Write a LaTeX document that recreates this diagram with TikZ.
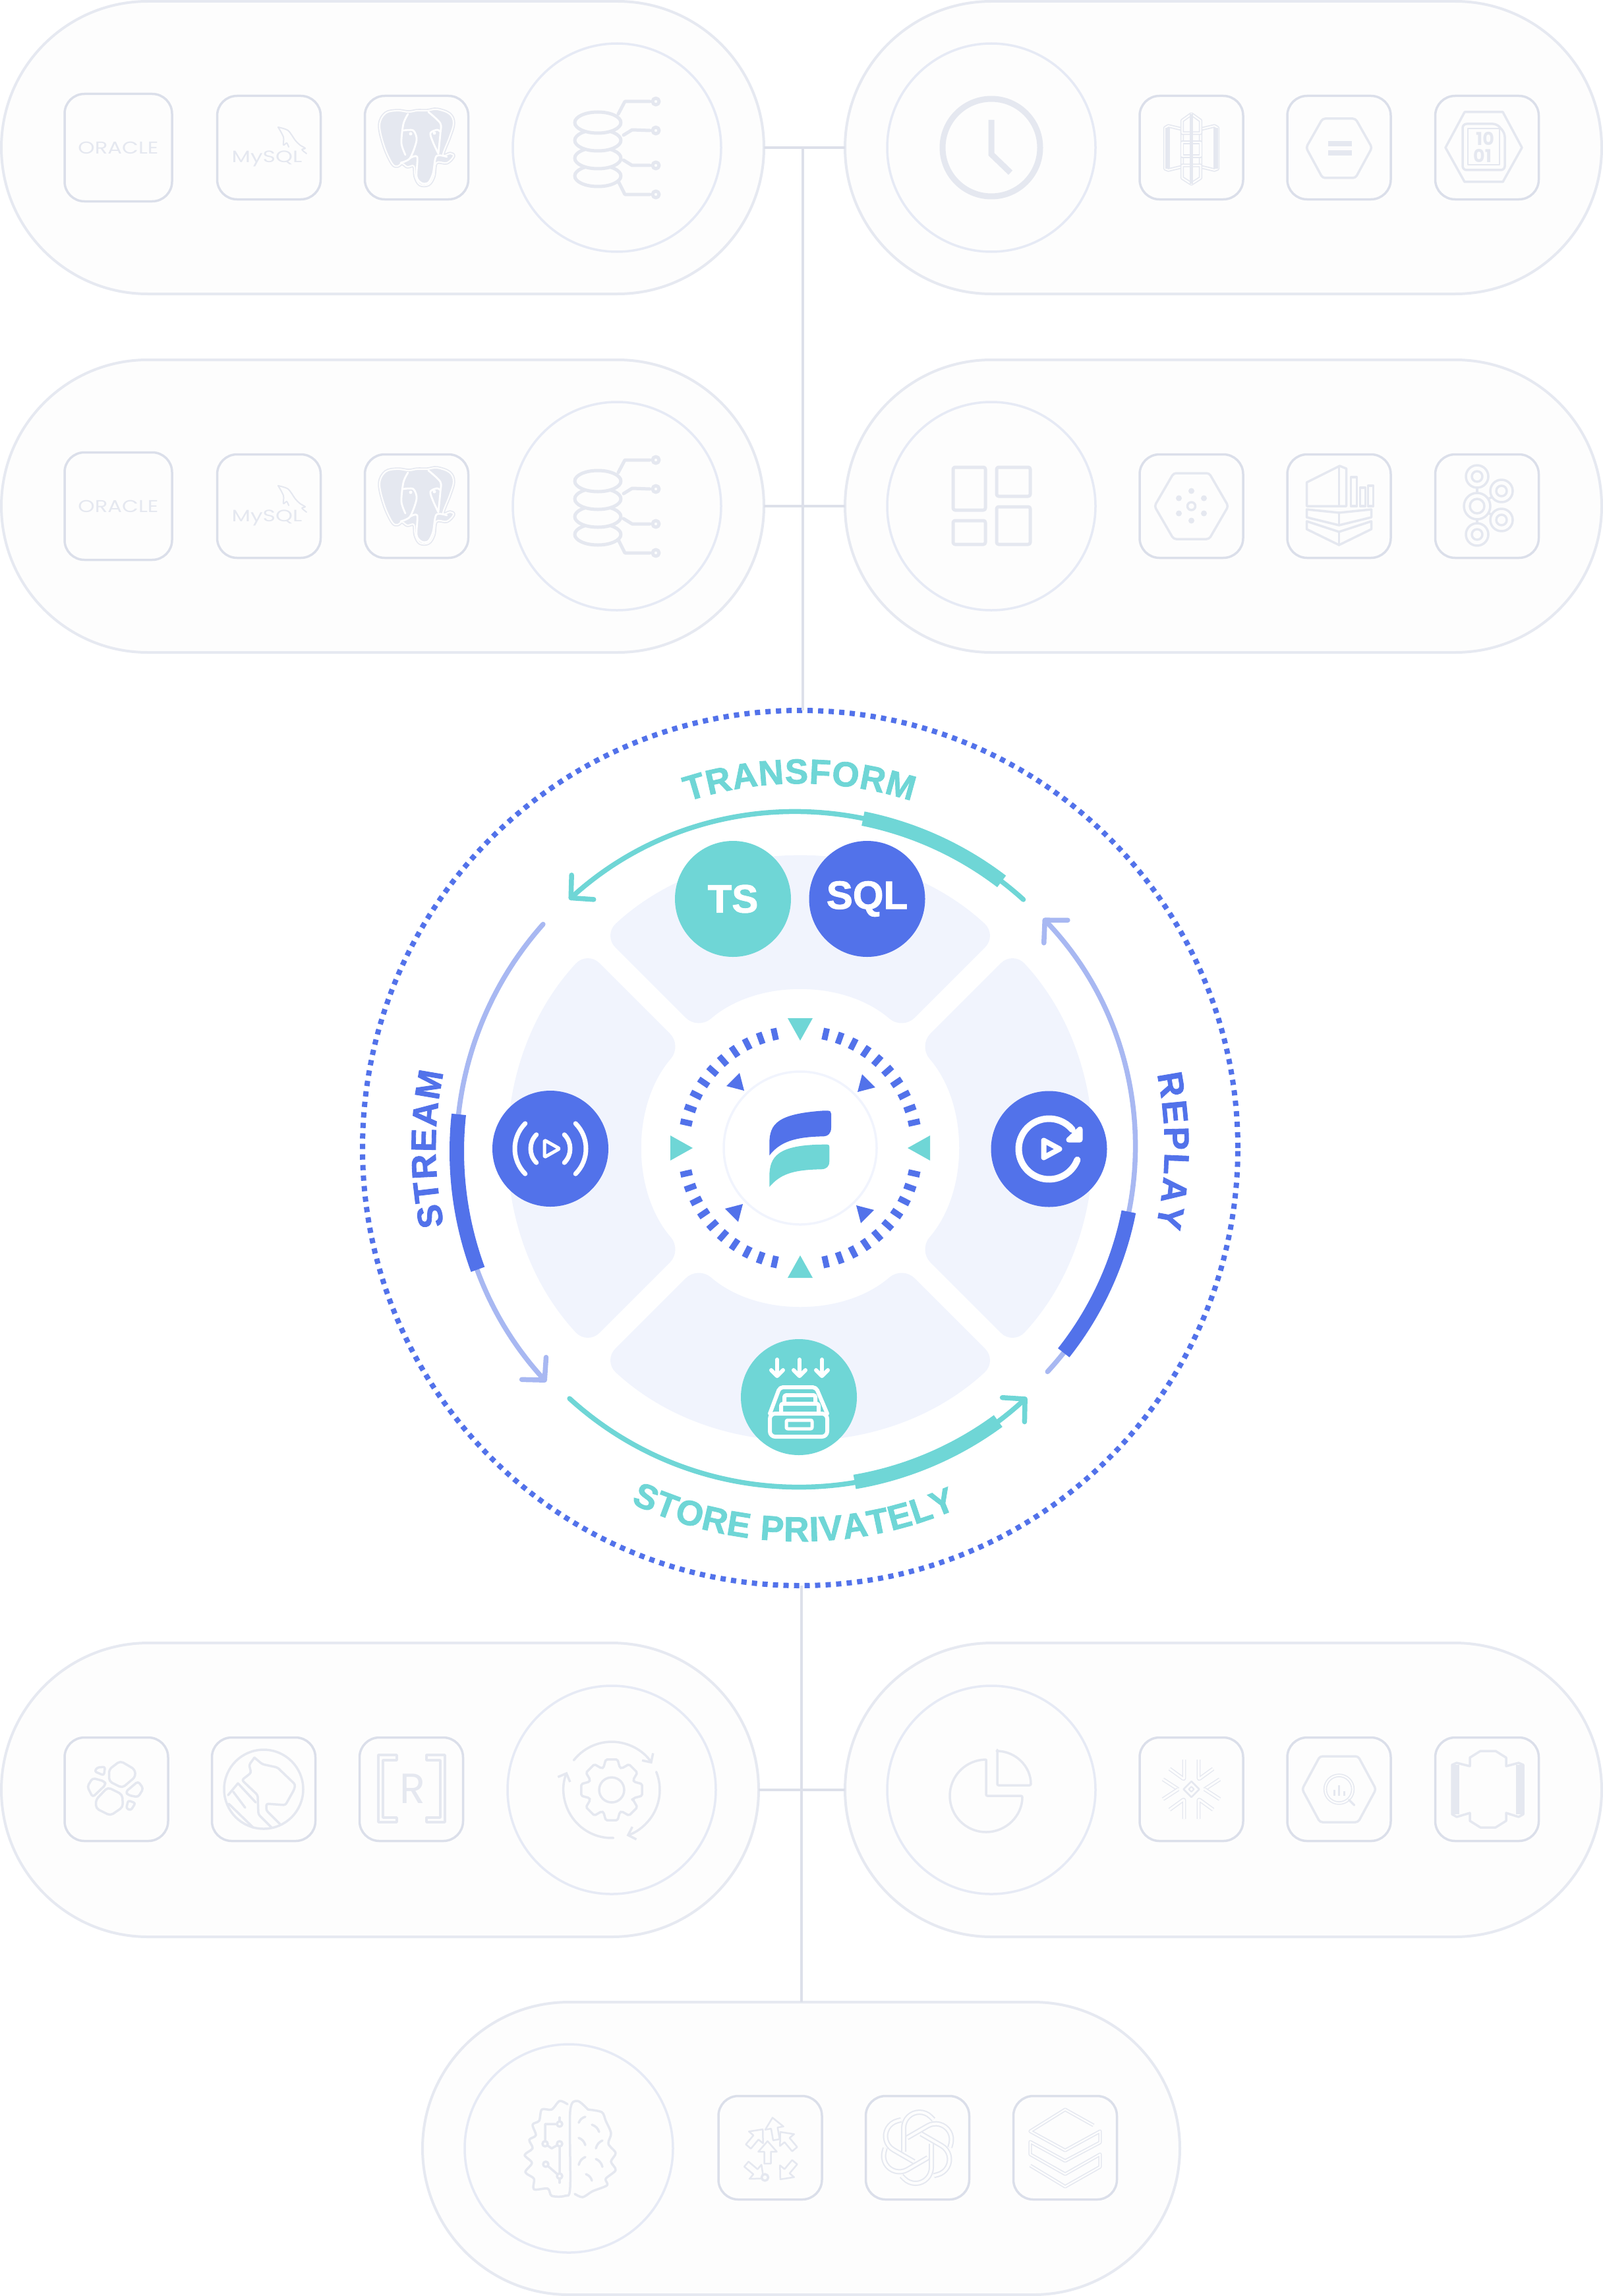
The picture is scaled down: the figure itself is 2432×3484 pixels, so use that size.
\documentclass[tikz,border=0pt]{standalone}
\usepackage{fontspec}
\setmainfont{Poppins}
\newfontfamily\heavyfont{Liberation Sans Bold}[FakeBold=1.6]
\usetikzlibrary{arrows.meta, calc, decorations.text, positioning, shapes.misc}

\definecolor{BlueMain}{HTML}{5272EA}
\definecolor{BlueSoft}{HTML}{A8B8F2}
\definecolor{BluePale}{HTML}{F1F4FD}
\definecolor{TealMain}{HTML}{6FD6D6}
\definecolor{PillEdge}{HTML}{E6E9F1}
\definecolor{TileEdge}{HTML}{DBDFEA}
\definecolor{RingEdge}{HTML}{E6EAF5}
\definecolor{IconLine}{HTML}{E5E8F0}
\definecolor{TrunkLine}{HTML}{DDE0EA}
\definecolor{PillFill}{HTML}{FDFDFD}

\tikzset{
	cl_pill/.style={rounded rectangle, draw=PillEdge, fill=PillFill, line width=4pt, minimum height=444pt, inner sep=0pt, outer sep=0pt},
	cl_ring/.style={circle, draw=RingEdge, line width=3.5pt, minimum size=316pt, inner sep=0pt, outer sep=0pt},
	cl_tile/.style={rectangle, rounded corners=30pt, draw=TileEdge, line width=3.5pt, minimum size=157pt, inner sep=0pt, outer sep=0pt},
	cl_disc/.style={circle, minimum size=176pt, inner sep=0pt, outer sep=0pt, text=white, font=\fontsize{60}{60}\selectfont\heavyfont},
	cl_link/.style={draw=TrunkLine, line width=4pt},
	cl_icon/.style={draw=IconLine, line width=5pt, line join=round, line cap=round},
	cl_thin/.style={draw=IconLine, line width=3.5pt, line join=round, line cap=round},
	cl_dbl/.style={draw=IconLine, line width=1.6pt, double=PillFill, double distance=2.2pt, line join=round},
	cl_label/.style={font=\fontsize{#1}{#1}\selectfont, text=IconLine, inner sep=0pt},
	cl_arc/.style={line width=7.5pt, line cap=round},
	cl_tip/.style={-{Straight Barb[length=24pt,width=50pt,round]}},
	cl_white/.style={draw=white, line width=#1, line cap=round, line join=round}
}

\begin{document}
\begin{tikzpicture}[x=1pt, y=-1pt]
\useasboundingbox (0,0) rectangle (2432,3484);

% source and sink pills
\foreach \rowy/\rowid in {224/A, 768/B} {
	\node at (580.5,\rowy) [cl_pill, minimum width=1157pt] (PillLeft\rowid) {};
	\node at (1856,\rowy) [cl_pill, minimum width=1148pt] (PillRight\rowid) {};
	\node at (936,\rowy) [cl_ring] (RingLeft\rowid) {};
	\node at (1504,\rowy) [cl_ring] (RingRight\rowid) {};
	\node at (179.5,\rowy) [cl_tile, minimum size=163pt] (TileOracle\rowid) {};
	\node at (408,\rowy) [cl_tile] (TileMysql\rowid) {};
	\node at (632,\rowy) [cl_tile] (TilePostgres\rowid) {};
	\node at (1807.5,\rowy) [cl_tile] (TileOneR\rowid) {};
	\node at (2031.5,\rowy) [cl_tile] (TileTwoR\rowid) {};
	\node at (2256,\rowy) [cl_tile] (TileThreeR\rowid) {};
	\node at (TileOracle\rowid) [cl_label=26, font=\fontsize{26}{26}\selectfont\addfontfeatures{FakeStretch=1.24}] (TextOracle\rowid) {ORACLE};
	\node at (405,\rowy+23) [cl_label=25, anchor=base, font=\fontsize{25}{25}\selectfont\addfontfeatures{FakeStretch=1.32}] (TextMysql\rowid) {MySQL};

	% dolphin
	\begin{scope}[shift={(408,\rowy)}]
		\draw[cl_thin, line width=2pt] plot[smooth] coordinates {(14,-31) (29,-26) (40,-11) (47,-4) (55,1) (50,3) (57,9)};
		\draw[cl_thin, line width=2pt] plot[smooth] coordinates {(14,-31) (22,-16) (22,-4) (27,-7) (30,-1)};
	\end{scope}

	% elephant
	\begin{scope}[shift={(632,\rowy)}]
		\draw[cl_dbl, fill=IconLine] plot[smooth cycle, tension=0.6] coordinates {(-12,-54) (-29,-56) (-47,-52) (-56,-34) (-49,-2) (-37,24) (-29,28) (-22,24) (-14,29) (-4,28) (-2,44) (5,56) (18,56) (26,44) (30,23) (46,23) (56,13) (51,9) (40,11) (50,-16) (56,-37) (50,-51) (31,-58) (16,-56) (1,-56)};
		\draw[cl_white=2.8pt] plot[smooth] coordinates {(-13,-51) (-20,-36) (-23,-7) (-17,11)};
		\draw[cl_white=2.8pt] plot[smooth] coordinates {(-20,-26) (-5,-26) (0,-11) (-10,16) (-24,23)};
		\draw[cl_white=2.8pt] plot[smooth] coordinates {(-10,16) (1,14) (0,44) (8,54) (18,53) (25,39) (30,13) (46,14)};
		\draw[cl_white=2.8pt] plot[smooth] coordinates {(18,-54) (36,-37) (36,-21) (33,9)};
		\draw[cl_white=2.8pt] plot[smooth] coordinates {(33,9) (25,-8) (21,-22) (31,-27) (36,-24)};
		\fill[white] (-9,-21) circle (2.5);
		\fill[white] (27,-22) circle (2.5);
	\end{scope}

	% stacked disks
	\begin{scope}[shift={(936,\rowy)}]
		\foreach \y in {43,16,-11,-38} {
			\draw[cl_icon, fill=PillFill] (-29,\y) ellipse (35 and 16);
		}
		\foreach \ya/\yb/\yc/\xa/\xb in {-51/-70/-70/2/12, -19/-27/-26/10/23, 19/27/27/10/23, 51/71/71/2/12} {
			\draw[cl_icon] (\xa,\ya) -- (\xb,\yb) -- (50,\yc);
			\draw[cl_icon, fill=PillFill] (59,\yc) circle (5);
		}
	\end{scope}
}

\node at (576.5,2716) [cl_pill, minimum width=1149pt, minimum height=446pt] (PillLeftC) {};
\node at (1856,2716) [cl_pill, minimum width=1148pt, minimum height=446pt] (PillRightC) {};
\node at (1215.5,3260) [cl_pill, minimum width=1149pt] (PillBottom) {};
\node at (928,2716) [cl_ring] (RingLeftC) {};
\node at (1504,2716) [cl_ring] (RingRightC) {};
\node at (863,3260) [cl_ring] (RingBottom) {};
\node at (176.5,2715) [cl_tile] (TileRocks) {};
\node at (400,2715) [cl_tile] (TileHorse) {};
\node at (624,2715) [cl_tile] (TileBracket) {};
\node at (1807.5,2715) [cl_tile] (TileFlake) {};
\node at (2031.5,2715) [cl_tile] (TileQuery) {};
\node at (2256,2715) [cl_tile] (TileBucket) {};
\node at (1168.5,3259) [cl_tile] (TileArrows) {};
\node at (1392,3259) [cl_tile] (TileKnot) {};
\node at (1616,3259) [cl_tile] (TileLayers) {};

% clock
\begin{scope}[shift={(1504,224)}]
	\draw[cl_icon, line width=9pt] (0,0) circle (74);
	\draw[cl_icon, line width=9pt, line cap=butt, line join=miter] (0,-42) -- (0,10) -- (29,38);
\end{scope}

% book
\begin{scope}[shift={(1807.5,224)}]
	\draw[cl_dbl] (-40,-30) -- (-35,-33) -- (-14,-28) -- (-14,29) -- (-35,34) -- (-40,32) -- cycle;
	\draw[cl_dbl] (40,-30) -- (35,-33) -- (14,-28) -- (14,29) -- (35,34) -- (40,32) -- cycle;
	\fill[IconLine] (-40,-30) rectangle (-33,32);
	\fill[IconLine] (33,-30) rectangle (40,32);
	\draw[cl_dbl, fill=PillFill] (-14,-22) -- (-14,-41) -- (0,-51) -- (14,-41) -- (14,-22) -- cycle;
	\draw[cl_dbl, fill=PillFill] (-14,-8) rectangle (14,13);
	\draw[cl_dbl, fill=PillFill] (-14,27) -- (-14,46) -- (0,55) -- (14,46) -- (14,27) -- cycle;
	\draw[IconLine, line width=5pt] (0,-51) -- (0,55);
\end{scope}

% hexagon with bars
\begin{scope}[shift={(2031.5,224)}]
	\draw[cl_thin, rounded corners=4pt] (-50,0) -- (-25,-44) -- (25,-44) -- (50,0) -- (25,46) -- (-25,46) -- cycle;
	\fill[IconLine] (-17,-10) rectangle (19,-2);
	\fill[IconLine] (-17,4) rectangle (19,12);
\end{scope}

% hexagon with bits
\begin{scope}[shift={(2251,224)}]
	\draw[cl_thin] (-58,0) -- (-29,-54) -- (29,-54) -- (58,0) -- (29,52) -- (-29,52) -- cycle;
	\draw[cl_thin, rounded corners=6pt] (-32,-36) -- (20,-36) -- (32,-22) -- (32,34) -- (-32,34) -- cycle;
	\draw[cl_thin, line width=2.5pt] (-24,-29) rectangle (24,26);
	\node at (2,-14) [cl_label=27, font=\fontsize{27}{27}\selectfont\bfseries] (TextBitsA) {10};
	\node at (-2,12) [cl_label=27, font=\fontsize{27}{27}\selectfont\bfseries] (TextBitsB) {01};
\end{scope}

% grid
\begin{scope}[shift={(1504,768)}]
	\draw[cl_icon, rounded corners=3pt] (-58,-59) rectangle (-9,6);
	\draw[cl_icon, rounded corners=3pt] (8,-59) rectangle (59,-15);
	\draw[cl_icon, rounded corners=3pt] (-58,22) rectangle (-9,58);
	\draw[cl_icon, rounded corners=3pt] (8,1) rectangle (59,58);
\end{scope}

% hexagon with dots
\begin{scope}[shift={(1807.5,768)}]
	\draw[cl_thin, rounded corners=4pt] (-56,0) -- (-27,-50) -- (27,-50) -- (56,0) -- (27,50) -- (-27,50) -- cycle;
	\draw[cl_thin] (0,0) circle (6);
	\foreach \dx/\dy in {0/-23, -19/-12, 19/-12, -19/11, 19/11, 0/22} {
		\fill[IconLine] (\dx,\dy) circle (4.5);
	}
\end{scope}

% warehouse
\begin{scope}[shift={(2031.5,768)}]
	\draw[cl_thin] (-49,0) -- (-49,-36) -- (1,-61) -- (11,-57) -- (11,0) -- cycle;
	\draw[cl_thin] (0,-60) -- (0,0);
	\draw[cl_thin] (18,-44) rectangle (27,0);
	\draw[cl_thin] (32,-28) rectangle (40,0);
	\draw[cl_thin] (44,-31) rectangle (52,0);
	\draw[cl_thin] (-49,5) -- (0,10) -- (49,5) -- (49,17) -- (0,29) -- (-49,17) -- cycle;
	\draw[cl_thin] (0,10) -- (0,29);
	\draw[cl_thin] (-49,23) -- (0,39) -- (49,23) -- (49,35) -- (0,59) -- (-49,35) -- cycle;
	\draw[cl_thin] (0,39) -- (0,59);
\end{scope}

% brokers
\begin{scope}[shift={(2256,768)}]
	\draw[cl_thin] (-15,-30) -- (-15,28);
	\draw[cl_thin] (0,-10) -- (10,-15);
	\draw[cl_thin] (0,10) -- (10,14);
	\foreach \dx/\dy/\rd in {-15/-45/17, -15/0/20, -15/43/17, 22/-23/17, 22/21/17} {
		\draw[cl_thin, fill=PillFill] (\dx,\dy) circle (\rd);
		\draw[cl_thin] (\dx,\dy) circle (\rd-9);
	}
\end{scope}

% rocks
\begin{scope}[shift={(176.5,2715)}]
	\draw[cl_thin, rounded corners=5pt] (-11,-30) -- (6,-43) -- (28,-30) -- (29,-19) -- (9,-2) -- (-11,-12) -- cycle;
	\draw[cl_thin, rounded corners=5pt] (-31,16) -- (-13,-3) -- (9,8) -- (10,27) -- (-9,40) -- (-31,29) -- cycle;
	\draw[cl_thin, rounded corners=4pt] (-36,-17) -- (-18,-12) -- (-16,-7) -- (-36,12) -- (-44,-4) -- cycle;
	\draw[cl_thin, rounded corners=4pt] (33,-12) -- (41,-1) -- (33,12) -- (18,9) -- (14,4) -- cycle;
	\draw[cl_thin, rounded corners=3pt] (-29,-33) -- (-17,-34) -- (-19,-21) -- (-33,-27) -- cycle;
	\draw[cl_thin, rounded corners=3pt] (18,17) -- (29,21) -- (22,32) -- (15,29) -- cycle;
\end{scope}

% horse
\begin{scope}[shift={(400,2715)}]
	\draw[cl_thin] (0,0) circle (60);
	\draw[cl_thin, rounded corners=3pt] (-14,-48) -- (-2,-38) -- (21,-33) -- (48,-7) -- (46,1) -- (33,24) -- (4,22) -- (4,32) -- (25,53);
	\draw[cl_thin, rounded corners=3pt] (-14,-48) -- (-22,-37) -- (-19,-25) -- (-33,-14) -- (-9,9) -- (-8,38) -- (12,58);
	\draw[cl_thin] (-54,9) -- (-39,-9) -- (-12,20);
	\draw[cl_thin] (-53,22) -- (-16,58);
	\draw[cl_thin] (-46,4) -- (-28,28);
\end{scope}

% bracket
\begin{scope}[shift={(624,2715)}]
	\draw[cl_thin] (-22,-52) -- (-50,-52) -- (-50,50) -- (-22,50) -- (-22,43) -- (-43,43) -- (-43,-44) -- (-22,-44) -- cycle;
	\draw[cl_thin] (23,-52) -- (51,-52) -- (51,50) -- (23,50) -- (23,43) -- (44,43) -- (44,-44) -- (23,-44) -- cycle;
	\node at (2,-1) [cl_label=64] (TextBracket) {R};
\end{scope}

% gear
\begin{scope}[shift={(928,2716)}, y=1pt]
	\draw[cl_thin, rounded corners=2pt] (-25:35) \foreach \a in {0,45,...,315} {
		-- ({\a-20}:36) -- ({\a-11}:47) -- ({\a+11}:47) -- ({\a+20}:36)
	} -- cycle;
	\draw[cl_thin] (0,0) circle (19);
	\draw[cl_thin, -{Straight Barb[length=10pt,width=20pt]}] (142:73) arc[start angle=142, end angle=33, radius=73];
	\draw[cl_thin, -{Straight Barb[length=10pt,width=20pt]}] (22:73) arc[start angle=22, end angle=-72, radius=73];
	\draw[cl_thin, -{Straight Barb[length=10pt,width=20pt]}] (-88:73) arc[start angle=-88, end angle=-202, radius=73];
\end{scope}

% pie
\begin{scope}[shift={(1504,2716)}, y=1pt]
	\draw[cl_thin, rounded corners=2pt] (-8,46) -- (-8,-9) -- (47,-9) arc[start angle=0, end angle=-270, radius=55];
	\draw[cl_thin, rounded corners=2pt] (9,61) -- (9,7) -- (60,7) arc[start angle=0, end angle=90, radius=52];
\end{scope}

% flake
\begin{scope}[shift={(1807.5,2715)}]
	\foreach \sx/\sy in {1/1, -1/1, 1/-1, -1/-1} {
		\draw[cl_dbl, line width=1.4pt, double distance=3pt, rounded corners=2pt, xscale=\sx, yscale=\sy] (-11,-45) -- (-11,-15) -- (-33,-31);
		\draw[cl_dbl, line width=1.4pt, double distance=3pt, rounded corners=2pt, xscale=\sx, yscale=\sy] (-43,-15) -- (-20,0);
	}
	\draw[cl_thin, line width=2.5pt] (0,-12) -- (12,0) -- (0,12) -- (-12,0) -- cycle;
	\draw[cl_thin, line width=2pt] (0,-4) -- (4,0) -- (0,4) -- (-4,0) -- cycle;
\end{scope}

% hexagon with lens
\begin{scope}[shift={(2031.5,2715)}]
	\draw[cl_thin, rounded corners=4pt] (-56,0) -- (-29,-50) -- (29,-50) -- (56,0) -- (29,50) -- (-29,50) -- cycle;
	\draw[cl_dbl] (0,0) circle (21);
	\draw[cl_thin] (15,16) -- (23,24);
	\fill[IconLine] (-9,1) rectangle (-6,10);
	\fill[IconLine] (-1.500,-6) rectangle (1.500,10);
	\fill[IconLine] (6,3) rectangle (9,10);
\end{scope}

% bucket
\begin{scope}[shift={(2256,2715)}]
	\draw[cl_thin] (-53,-37) -- (-46,-40) -- (-26,-35) -- (-26,-48) -- (-10,-58) -- (13,-58) -- (29,-48) -- (29,-35) -- (48,-40) -- (55,-37) -- (55,38) -- (48,42) -- (29,36) -- (29,48) -- (13,58) -- (-10,58) -- (-26,48) -- (-26,36) -- (-46,42) -- (-53,38) -- cycle;
	\fill[IconLine] (-53,-37) rectangle (-42,38);
	\fill[IconLine] (44,-37) rectangle (55,38);
\end{scope}

% brain
\begin{scope}[shift={(863,3260)}]
	\draw[cl_thin] plot[smooth] coordinates {(-2,-67) (-14,-72) (-26,-59) (-41,-59) (-45,-42) (-55,-36) (-50,-20) (-60,-13) (-55,0) (-67,10) (-56,22) (-66,36) (-53,46) (-53,62) (-32,61) (-26,72) (-6,72) (2,59) (2,-56) (13,-72) (29,-59)};
	\draw[cl_thin] plot[smooth] coordinates {(29,-59) (50,-55) (56,-42) (64,-23) (60,-7) (71,7) (64,20) (71,33) (56,46) (58,56) (36,65) (21,74) (9,69)};
	\draw[cl_thin] (-14,-37) -- (-36,-37) -- (-36,-7) -- (-26,0) -- (-14,-7) -- (-14,42) -- (-35,24);
	\draw[cl_thin] (-14,-37) -- (-14,-47);
	\draw[cl_thin] (-14,42) -- (-14,52);
	\foreach \dx/\dy in {-14/-37, -36/-7, -14/-7, -35/24, -14/42} {
		\draw[cl_thin, fill=PillFill] (\dx,\dy) circle (4);
	}
	\foreach \ax/\ay/\bx/\by in {15/-39/25/-48, 35/-36/46/-25, 15/-16/25/-5, 41/0/51/-12, 15/25/25/13, 41/16/51/28, 26/39/35/49} {
		\draw[cl_thin] (\ax,\ay) to[bend left=25] (\bx,\by);
	}
\end{scope}

% arrows
\begin{scope}[shift={(1168.5,3259)}]
	\foreach \dx/\dy/\rt in {8/-20/10, -28/-8/-40, 32/-4/40, -4/16/0, -30/30/-130, 32/28/140} {
		\draw[cl_thin, line width=2.5pt, shift={(\dx,\dy)}, rotate=\rt] (0,-26) -- (-14,-10) -- (-5,-10) -- (-5,8) -- (5,8) -- (5,-10) -- (14,-10) -- cycle;
	}
	\draw[cl_thin, fill=PillFill] (-8,45) circle (5);
\end{scope}

% knot
\begin{scope}[shift={(1392,3259)}, y=1pt]
	\foreach \a in {0,60,...,300} {
		\draw[cl_dbl, line width=2pt, double distance=4pt, rotate=\a] (-21,-6) -- (-21,30) arc[start angle=180, end angle=45, radius=24] -- ++(-45:6);
	}
\end{scope}

% layers
\begin{scope}[shift={(1616,3259)}]
	\draw[cl_dbl] (43,-34) -- (0,-58) -- (-53,-25) -- (0,4) -- (53,-25) -- (53,-8) -- (0,20) -- (-53,-9) -- (-53,10) -- (0,40) -- (53,10) -- (53,29) -- (0,59) -- (-53,27);
\end{scope}

% central wheel
\node at (1214,1742) [circle, draw=BlueMain, line width=8pt, dash pattern=on 8pt off 8pt, minimum size=1328pt, inner sep=0pt, outer sep=0pt] (RingOuter) {};
\coordinate (TrunkTop) at (1218,224);
\coordinate (TrunkLow) at (1215.5,3038);

\draw[cl_link] (PillLeftA.east) -- (PillRightA.west);
\draw[cl_link] (PillLeftB.east) -- (PillRightB.west);
\draw[cl_link] (PillLeftC.east) -- (PillRightC.west);
\draw[cl_link] (TrunkTop) -- (TrunkTop |- RingOuter.north);
\draw[cl_link] (TrunkLow |- RingOuter.south) -- (TrunkLow);

\begin{scope}[shift={(1214,1742)}, y=1pt]
	\foreach \q in {0,90,180,270} {
		\fill[BluePale, rounded corners=26pt, rotate=\q] (47.2:440) arc[start angle=47.2, end angle=132.8, radius=440] -- (130.9:237) arc[start angle=130.9, end angle=49.1, radius=237] -- cycle;
		\fill[TealMain, rotate=\q] (-19,197) -- (19,197) -- (0,163) -- cycle;
		\fill[BlueMain, rotate=\q] (94,112) -- (114,92) -- (87,85) -- cycle;
		\foreach \a in {12.6,19.8,...,78} {
			\draw[BlueMain, line width=9pt] ({\q+\a}:168) -- ({\q+\a}:186);
		}
	}
	\draw[BluePale, line width=3.5pt] (0,0) circle (116);
\end{scope}

% logo
\fill[BlueMain] (1167.3,1753.3) -- (1167.3,1735) .. controls (1167.3,1705) and (1180,1690) .. (1250,1685.3) -- (1255,1685.3) .. controls (1259.5,1685.3) and (1261,1687) .. (1261,1690) -- (1261,1711) .. controls (1261,1720) and (1256,1724) .. (1250,1724.3) .. controls (1205,1725) and (1183,1733) .. (1167.3,1753.3) -- cycle;
\fill[TealMain] (1167.3,1801) -- (1167.3,1785) .. controls (1167.3,1755) and (1180,1737) .. (1250,1736.7) -- (1255,1736.7) .. controls (1257.5,1736.7) and (1258.3,1738) .. (1258.3,1740) -- (1258.3,1762) .. controls (1258.3,1770) and (1254,1774) .. (1246,1774.3) .. controls (1200,1775) and (1183,1783) .. (1167.3,1801) -- cycle;

% the four arcs
\begin{scope}[shift={(1208,1745)}, y=1pt]
	\draw[TealMain, cl_arc, cl_tip] (47.800:513) arc[start angle=47.8, end angle=132.2, radius=513];
	\draw[TealMain, line width=22pt] (78.600:513) arc[start angle=78.6, end angle=52.6, radius=513];
\end{scope}
\begin{scope}[shift={(1210,1742)}, y=1pt]
	\draw[TealMain, cl_arc, cl_tip] (-132.300:514) arc[start angle=-132.3, end angle=-47.4, radius=514];
	\draw[TealMain, line width=22pt] (-80.300:514) arc[start angle=-80.3, end angle=-53.7, radius=514];
\end{scope}
\begin{scope}[shift={(1212,1747)}, y=1pt]
	\draw[BlueSoft, cl_arc, cl_tip] (138.400:519) arc[start angle=138.4, end angle=222.4, radius=519];
	\draw[BlueMain, line width=22pt] (173.800:519) arc[start angle=173.8, end angle=200.2, radius=519];
\end{scope}
\begin{scope}[shift={(1219,1741)}, y=1pt]
	\draw[BlueSoft, cl_arc, cl_tip] (-42.600:503) arc[start angle=-42.6, end angle=43.7, radius=503];
	\draw[BlueMain, line width=22pt] (-11.200:503) arc[start angle=-11.2, end angle=-38.3, radius=503];
\end{scope}

% labels on the wheel
\begin{scope}[shift={(1214,1742)}, y=1pt]
	\path[decorate, decoration={text along path, text align=fit to path, text={|\fontsize{53}{53}\selectfont\heavyfont\color{TealMain}|TRANSFORM}}] (108:553) arc[start angle=108, end angle=72.2, radius=553];
	\path[decorate, decoration={text along path, text align=fit to path, text={|\fontsize{53}{53}\selectfont\heavyfont\color{TealMain}|STORE PRIVATELY}}] (-115.500:597) arc[start angle=-115.5, end angle=-66.5, radius=597];
	\path[decorate, decoration={text along path, text align=fit to path, text={|\fontsize{53}{53}\selectfont\heavyfont\color{BlueMain}|STREAM}}] (192.300:553) arc[start angle=192.3, end angle=168, radius=553];
	\path[decorate, decoration={text along path, text align=fit to path, text={|\fontsize{53}{53}\selectfont\heavyfont\color{BlueMain}|REPLAY}}] (11.700:553) arc[start angle=11.7, end angle=-12.5, radius=553];
\end{scope}

% discs
\node at (1112,1364) [cl_disc, fill=TealMain] (DiscTs) {TS};
\node at (1315.5,1364) [cl_disc, fill=BlueMain] (DiscSql) {SQL};
\node at (835,1743) [cl_disc, fill=BlueMain] (DiscStream) {};
\node at (1591.5,1743.5) [cl_disc, fill=BlueMain] (DiscReplay) {};
\node at (1212,2120) [cl_disc, fill=TealMain] (DiscStore) {};

\begin{scope}[shift={(DiscStream)}, y=1pt]
	\foreach \s in {1,-1} {
		\draw[cl_white=7pt, xscale=\s] (-45:54) arc[start angle=-45, end angle=45, radius=54];
		\draw[cl_white=7pt, xscale=\s] (-45:30) arc[start angle=-45, end angle=45, radius=30];
	}
	\draw[cl_white=5pt, rounded corners=2pt] (-9,13) -- (-9,-13) -- (14,0) -- cycle;
\end{scope}

\begin{scope}[shift={(DiscReplay)}, y=1pt]
	\draw[cl_white=10pt] (-21:46) arc[start angle=-21, end angle=-320, radius=46];
	\draw[white, fill=white, line width=8pt, line join=round] (47,30) -- (47,14) -- (30,14) -- cycle;
	\draw[cl_white=8pt] (-8,13) -- (-8,-13) -- (16,0) -- cycle;
\end{scope}

\begin{scope}[shift={(DiscStore)}]
	\foreach \dx in {-33,1,35} {
		\draw[cl_white=6pt] (\dx,-57) -- (\dx,-33);
		\draw[cl_white=6pt] (\dx-9,-41) -- (\dx,-32) -- (\dx+9,-41);
	}
	\draw[cl_white=6pt, rounded corners=5pt] (-44,25) -- (-29,-15) -- (26,-15) -- (43,25);
	\draw[cl_white=6pt, rounded corners=3pt] (-22,8) -- (-22,-3) -- (25,-3) -- (25,8);
	\draw[cl_white=6pt, rounded corners=3pt] (-27,25) -- (-27,10) -- (30,10) -- (30,25);
	\draw[cl_white=6pt, rounded corners=8pt] (-44,25) rectangle (43,60);
	\draw[cl_white=5pt, rounded corners=2pt] (-19,35) rectangle (20,48);
\end{scope}

\end{tikzpicture}
\end{document}
